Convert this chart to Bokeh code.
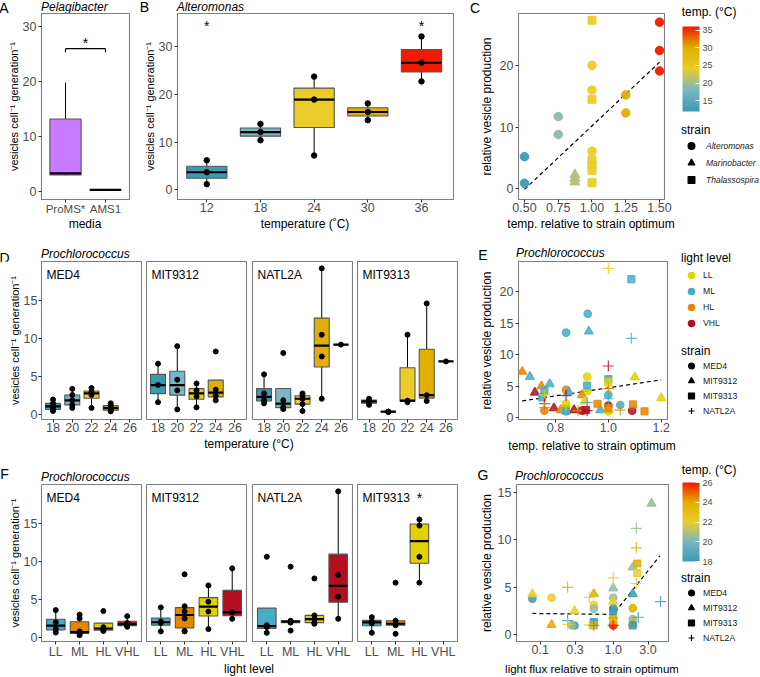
import numpy as np
from bokeh.plotting import figure
from bokeh.models import (ColumnDataSource, FixedTicker, Range1d, Label, Legend, LegendItem,
                          ColorBar, LinearColorMapper, NumeralTickFormatter,
                          CustomJSTickFormatter, Div)
from bokeh.layouts import row, column
from bokeh.core.properties import value
from bokeh.transform import factor_cmap, transform
from bokeh.embed import file_html
from bokeh.resources import INLINE

FONT = "Liberation Sans"

# ---------------------------------------------------------------- data
ZISSOU = ["#3B9AB2", "#78B7C5", "#EBCC2A", "#E1AF00", "#F21A00"]
LIGHT_COLORS_F = ["#46ACC8", "#E58601", "#E2D200", "#B40F20"]
LIGHT_COLORS_E = ["#E2D200", "#46ACC8", "#E58601", "#B40F20"]

# A  Pelagibacter
A_media = ["ProMS*", "AMS1"]
A_values = [[2.95, 3.0, 3.3, 13.2, 19.8], [0.2, 0.3, 0.35]]
A_fill = ["#C77CFF", "#7F7F7F"]
A_sig_pair = [1, 2]
A_sig_y = 26.0
A_star_y = 27.8

# B  Alteromonas
B_temps = [12, 18, 24, 30, 36]
B_values = [[1.2, 3.7, 6.2], [10.4, 12.1, 13.8], [7.2, 18.9, 23.7],
            [14.6, 16.3, 18.1], [22.7, 26.6, 32.1]]
B_star_x = [12, 36]
B_star_y = [35.1, 35.1]

# C  relative temperature vs vesicle production
C_alt_x = [0.5, 0.5, 0.75, 0.75, 1.0, 1.0, 1.0, 1.25, 1.25, 1.5, 1.5, 1.5]
C_alt_y = [5.2, 0.9, 11.7, 8.8, 20.0, 16.0, 6.1, 15.2, 12.3, 27.0, 22.4, 19.1]
C_alt_t = [12, 12, 19, 19, 24, 24, 24, 30, 30, 36, 36, 36]
C_mar_x = [0.873, 0.873, 0.873]
C_mar_y = [1.1, 1.7, 2.3]
C_mar_t = [21, 21, 21]
C_tha_x = [1.0, 1.0, 1.0, 1.0, 1.0, 1.0]
C_tha_y = [27.3, 14.5, 4.7, 3.9, 3.0, 1.0]
C_tha_t = [24, 24, 24, 24, 24, 24]
C_fit_x = [0.5, 1.5]
C_fit_y = [-0.1, 20.5]
C_strains = ["Alteromonas", "Marinobacter", "Thalassospira"]

# D  Prochlorococcus vs temperature
D_strains = ["MED4", "MIT9312", "NATL2A", "MIT9313"]
D_temps = ["18", "20", "22", "24", "26"]
D_MED4 = [[0.5, 0.7, 1.1, 1.5, 2.0], [0.9, 1.3, 1.9, 2.6, 3.4], [0.9, 2.6, 3.0, 3.5],
          [0.45, 0.6, 0.87, 1.2, 1.5], []]
D_MIT9312 = [[1.65, 3.9, 6.7], [0.7, 3.2, 4.6, 9.0], [0.97, 2.4, 3.2, 4.1],
             [1.9, 2.5, 3.3, 8.3], []]
D_NATL2A = [[1.5, 1.9, 2.8, 5.3], [0.75, 1.0, 1.9, 8.1], [0.5, 1.4, 2.1, 2.5, 2.8],
            [2.1, 7.65, 10.5, 19.2], [9.2]]
D_MIT9313 = [[1.3, 1.75, 2.1], [0.37, 0.4, 0.42], [1.65, 1.85, 10.5],
             [1.8, 2.57, 14.6], [7.0]]
D_values = [D_MED4, D_MIT9312, D_NATL2A, D_MIT9313]

# E  relative temperature, Prochlorococcus
E_levels = ["LL", "ML", "HL", "VHL"]
E_MED4_x = [0.840, 0.922, 0.92, 0.92, 0.84, 1.0, 1.045, 0.84, 0.758, 1.0, 1.09, 0.90, 0.84, 1.0]
E_MED4_y = [13.5, 16.5, 6.5, 4.2, 4.4, 3.6, 2.0, 2.2, 1.1, 1.9, 1.1, 1.1, 1.0, 1.0]
E_MED4_l = ["ML", "ML", "LL", "LL", "HL", "ML", "ML", "LL", "HL", "VHL", "VHL", "VHL", "ML", "LL"]
E_MIT9312_x = [0.926, 0.674, 0.703, 1.1, 0.778, 0.747, 0.722, 0.85, 0.9, 0.91, 0.794, 0.82,
               0.87, 0.97, 1.0, 1.2, 0.84]
E_MIT9312_y = [13.7, 7.3, 6.5, 6.4, 5.35, 5.0, 4.0, 4.1, 3.6, 2.6, 1.5, 1.2, 1.2, 1.2, 1.2, 3.1, 1.0]
E_MIT9312_l = ["ML", "HL", "ML", "LL", "ML", "HL", "VHL", "ML", "HL", "LL", "VHL", "HL",
               "VHL", "ML", "LL", "LL", "ML"]
E_MIT9313_x = [1.087, 0.92, 1.0, 0.758, 0.75, 0.959, 1.093, 1.0, 1.137, 0.915, 0.84, 1.0]
E_MIT9313_y = [22.0, 5.1, 6.1, 4.3, 3.2, 2.2, 2.1, 1.5, 1.0, 1.2, 1.3, 5.6]
E_MIT9313_l = ["ML", "ML", "ML", "ML", "ML", "HL", "HL", "HL", "HL", "VHL", "ML", "LL"]
E_NATL2A_x = [1.0, 1.087, 1.0, 0.758, 0.758, 0.758, 0.84, 0.92, 0.885, 0.92, 1.045, 1.0, 1.0, 0.84]
E_NATL2A_y = [23.7, 12.6, 8.2, 3.6, 2.2, 1.6, 3.5, 2.4, 1.1, 1.1, 1.2, 4.6, 3.0, 1.8]
E_NATL2A_l = ["LL", "ML", "VHL", "LL", "VHL", "HL", "VHL", "ML", "HL", "VHL", "HL", "HL", "ML", "LL"]
E_fit_x = [0.674, 1.2]
E_fit_y = [2.65, 6.0]

# F  Prochlorococcus vs light level
F_levels = ["LL", "ML", "HL", "VHL"]
F_MED4 = [[0.65, 1.1, 2.0, 3.6], [0.3, 0.5, 0.6, 0.8, 2.5, 3.0], [0.85, 1.0, 1.35, 3.47],
          [1.4, 1.6, 1.9, 2.8]]
F_MIT9312 = [[0.8, 1.9, 2.1, 3.95], [0.8, 0.85, 2.5, 3.4, 4.1, 8.3], [1.1, 3.4, 4.7, 6.84],
             [2.45, 3.29, 9.08]]
F_NATL2A = [[0.61, 1.36, 1.6, 10.6], [0.9, 1.95, 2.1, 2.2, 9.3], [1.8, 1.95, 2.4, 2.9, 7.76],
            [2.45, 5.35, 8.2, 19.2]]
F_MIT9313 = [[0.61, 1.85, 2.1, 2.67], [0.48, 1.6, 1.8, 2.2, 7.2], [7.2, 10.6, 14.7, 15.5], []]
F_values = [F_MED4, F_MIT9312, F_NATL2A, F_MIT9313]
F_star = {"MIT9313": (3, 18.9)}

# G  relative light flux, Prochlorococcus
G_MED4_x = [0.078, 0.143, 1.0, 0.542, 0.542, 1.85, 1.85, 0.295, 0.27, 1.0, 1.0]
G_MED4_y = [3.8, 3.9, 3.9, 3.15, 2.75, 2.8, 1.66, 0.98, 1.0, 1.0, 2.8]
G_MED4_t = [18, 22, 20.5, 22, 20.5, 24, 20.5, 18, 20.5, 26, 18]
G_MIT9312_x = [3.35, 1.85, 1.0, 0.078, 0.542, 1.85, 1.0, 0.295, 0.143, 1.85, 1.0]
G_MIT9312_y = [13.8, 7.1, 4.9, 4.3, 4.3, 4.3, 3.5, 2.5, 1.05, 1.2, 2.0]
G_MIT9312_t = [20.5, 20.5, 20.5, 22, 24, 18, 22, 22, 24, 24, 24]
G_MIT9313_x = [2.13, 2.13, 0.542, 0.542, 1.0, 1.85, 1.0]
G_MIT9313_y = [7.5, 6.5, 1.35, 1.0, 1.5, 1.0, 2.5]
G_MIT9313_t = [24, 22, 18, 24, 24, 18, 18]
G_NATL2A_x = [2.07, 2.07, 1.0, 2.07, 0.237, 0.469, 4.45, 2.2, 0.237, 0.237, 0.469, 0.542, 1.0]
G_NATL2A_y = [11.2, 9.15, 6.0, 5.4, 5.0, 3.95, 3.5, 1.85, 1.5, 1.1, 1.05, 1.0, 1.0]
G_NATL2A_t = [20.5, 24, 22, 22, 24, 22, 18, 18, 18, 22, 22, 18, 26]
G_fit_x = [0.078, 1.0, 4.35]
G_fit_y = [2.25, 2.15, 8.3]

STRAIN_MARKERS = ["circle", "triangle", "square", "cross"]
E_strains = ["MED4", "MIT9312", "MIT9313", "NATL2A"]


# ---------------------------------------------------------------- helpers
def ramp(anchors, n=256):
    rgb = np.array([[int(c[i:i + 2], 16) for i in (1, 3, 5)] for c in anchors], float)
    pos = np.linspace(0, 1, len(anchors))
    t = np.linspace(0, 1, n)
    ch = [np.interp(t, pos, rgb[:, k]) for k in range(3)]
    return ["#%02X%02X%02X" % (int(round(r)), int(round(g)), int(round(b))) for r, g, b in zip(*ch)]


PAL = ramp(ZISSOU)


def base_fig(w, h, xr, yr, left, right, top, bottom, y_axis=True, x_type="linear"):
    p = figure(width=w, height=h, x_range=Range1d(*xr), y_range=Range1d(*yr),
               x_axis_type=x_type, x_axis_location="below",
               y_axis_location="left" if y_axis else None,
               output_backend="svg", toolbar_location=None, title=None,
               min_border_left=left, min_border_right=right,
               min_border_top=top, min_border_bottom=bottom)
    p.grid.visible = False
    p.outline_line_color = "#7F7F7F"
    p.outline_line_width = 1.1
    p.background_fill_color = "white"
    p.border_fill_color = "white"
    for ax in p.axis:
        ax.axis_line_color = None
        ax.major_tick_line_color = "#333333"
        ax.major_tick_out = 3
        ax.major_tick_in = 0
        ax.minor_tick_line_color = None
        ax.major_label_text_font = FONT
        ax.major_label_text_font_size = "12.5px"
        ax.major_label_text_color = "#4D4D4D"
        ax.major_label_standoff = 2
        ax.axis_label_text_font = FONT
        ax.axis_label_text_font_style = "normal"
        ax.axis_label_text_font_size = "12px"
        ax.axis_label_text_color = "black"
    for ax in p.xaxis:
        ax.major_label_standoff = 0
    return p


def small_fig(w, h):
    p = figure(width=w, height=h, x_range=Range1d(0, 1), y_range=Range1d(0, 1),
               x_axis_location=None, y_axis_location=None, title=None,
               output_backend="svg", toolbar_location=None, min_border=0)
    p.grid.visible = False
    p.outline_line_color = None
    return p


def strip(width, height, items):
    spans = []
    for text, x, yc, size, style, align in items:
        tr = "transform:translateX(-50%);" if align == "center" else ""
        spans.append(
            f'<span style="position:absolute;left:{x}px;top:{yc - size / 2:.1f}px;'
            f'font-size:{size}px;line-height:{size}px;font-style:{style};white-space:nowrap;{tr}">'
            f'{text}</span>')
    html = (f'<div style="position:relative;width:{width}px;height:{height}px;'
            f'font-family:\'Liberation Sans\',Arial,sans-serif;color:#000">' + "".join(spans) + "</div>")
    return Div(text=html, width=width, height=height, margin=0, styles={"overflow": "visible"})


def note(p, text, dx, dy, size="12px", style="normal", align="left", color="black"):
    p.add_layout(Label(x=p.x_range.start, y=p.y_range.end, x_offset=dx, y_offset=dy, text=text,
                       text_font=FONT, text_font_size=size, text_font_style=style,
                       text_align=align, text_baseline="middle", text_color=color))


def draw_boxes(p, xs, groups, colors, width, points=True, pt_size=5):
    d = dict(x=[], xl=[], xr=[], q1=[], med=[], q3=[], lo=[], hi=[], color=[])
    px, py = [], []
    for x, vals, col in zip(xs, groups, colors):
        if not vals:
            continue
        v = np.asarray(vals, float)
        q1, med, q3 = np.percentile(v, [25, 50, 75])
        iqr = q3 - q1
        lo = v[v >= q1 - 1.5 * iqr].min()
        hi = v[v <= q3 + 1.5 * iqr].max()
        for k, val in zip(["x", "xl", "xr", "q1", "med", "q3", "lo", "hi", "color"],
                          [x, x - width / 2, x + width / 2, q1, med, q3, lo, hi, col]):
            d[k].append(val)
        px += [x] * len(v)
        py += list(v)
    src = ColumnDataSource(d)
    p.segment(x0="x", y0="lo", x1="x", y1="q1", source=src, line_color="black", line_width=1)
    p.segment(x0="x", y0="q3", x1="x", y1="hi", source=src, line_color="black", line_width=1)
    p.quad(left="xl", right="xr", bottom="q1", top="q3", source=src, fill_color="color",
           line_color="#555555", line_width=1.1)
    p.segment(x0="xl", y0="med", x1="xr", y1="med", source=src, line_color="black", line_width=2.2)
    if points:
        p.scatter(px, py, size=pt_size, color="black")


def ticks(ax, vals, labels=None):
    ax.ticker = FixedTicker(ticks=list(vals))
    if labels is not None:
        ax.major_label_overrides = {v: l for v, l in zip(vals, labels)}


def star(p, xs, ys):
    p.text(x=xs, y=ys, text=["*"] * len(xs), text_font=value(FONT), text_font_size=value("14px"),
           text_align="center", text_baseline="middle", y_offset=4, text_color="black")


def add_colorbar(p, mapper, tick_vals, bar_h):
    cb = ColorBar(color_mapper=mapper, ticker=FixedTicker(ticks=tick_vals), orientation="vertical",
                  width=17, height=int(bar_h),
                  major_label_text_font=FONT, major_label_text_font_size="9px",
                  major_label_text_color="#4D4D4D", label_standoff=3,
                  major_tick_line_color="white", major_tick_in=4, major_tick_out=0,
                  minor_tick_line_color=None, bar_line_color=None, padding=4, margin=0,
                  location="top_left", background_fill_alpha=0, border_line_color=None)
    p.add_layout(cb)


def add_legend(p, title, labels, markers, colors, item_h, standoff, lsize, lstyle, lstand):
    items = []
    for lab, mk, col in zip(labels, markers, colors):
        r = p.scatter(x=[np.nan], y=[np.nan], marker=mk, fill_color=col, line_color=col,
                      line_width=1.2, size=8)
        items.append(LegendItem(label=lab, renderers=[r]))
    lg = Legend(items=items, location="top_left", title=title, title_text_font=FONT,
                title_text_font_size="12px", title_text_font_style="normal",
                title_text_color="black", title_standoff=int(standoff),
                label_text_font=FONT, label_text_font_size=lsize, label_text_font_style=lstyle,
                label_text_color="#1A1A1A", label_standoff=int(lstand),
                glyph_width=20, glyph_height=int(item_h), label_height=int(item_h), spacing=0,
                padding=0, margin=3, background_fill_alpha=0, border_line_alpha=0)
    p.add_layout(lg)


VES = "vesicles cell\u207B\u00B9 generation\u207B\u00B9"
TEMP_T = "temp. (\u00B0C)"

# ---------------------------------------------------------------- row 1  (y 0..232)
fA = base_fig(140, 206, (0.4, 2.6), (-1.45, 32.4), 41, 11, 0, 20)
xsA = list(range(1, len(A_media) + 1))
draw_boxes(fA, xsA, A_values, A_fill, 0.78, points=False)
sy = A_sig_y
fA.segment(x0=[A_sig_pair[0], A_sig_pair[0], A_sig_pair[1]], y0=[sy, sy, sy],
           x1=[A_sig_pair[1], A_sig_pair[0], A_sig_pair[1]], y1=[sy, sy - 0.65, sy - 0.65],
           line_color="black", line_width=1.2)
star(fA, [sum(A_sig_pair) / 2], [A_star_y])
ticks(fA.xaxis[0], xsA, A_media)
fA.xaxis.major_label_text_font_size = "11.5px"
ticks(fA.yaxis[0], [0, 10, 20, 30])
fA.yaxis.axis_label = VES
fA.yaxis.axis_label_text_font_size = "11px"
fA.yaxis.axis_label_standoff = 0

fB = base_fig(330, 206, (8.725, 39.58), (-2.0, 36.9), 37, 17, 0, 20)
draw_boxes(fB, B_temps, B_values, ZISSOU, 4.5, points=True, pt_size=5.5)
star(fB, B_star_x, B_star_y)
ticks(fB.xaxis[0], B_temps)
ticks(fB.yaxis[0], [0, 10, 20, 30])
fB.yaxis.axis_label = VES
fB.yaxis.axis_label_text_font_size = "11px"
fB.yaxis.axis_label_standoff = 0

mapC = LinearColorMapper(palette=PAL, low=12, high=36)
fC = base_fig(208, 206, (0.4556, 1.537), (-1.73, 28.4), 48, 14, 0, 20)
fC.line(C_fit_x, C_fit_y, line_color="black", line_dash="4 3", line_width=1.2)
for xs_, ys_, ts_, mk, sz in [(C_mar_x, C_mar_y, C_mar_t, "triangle", 10),
                              (C_alt_x, C_alt_y, C_alt_t, "circle", 8.5),
                              (C_tha_x, C_tha_y, C_tha_t, "square", 8)]:
    src = ColumnDataSource(dict(x=xs_, y=ys_, t=ts_))
    fC.scatter("x", "y", source=src, marker=mk, size=sz,
               fill_color=transform("t", mapC), line_color=transform("t", mapC), alpha=0.95)
ticks(fC.xaxis[0], [0.5, 0.75, 1.0, 1.25, 1.5])
fC.xaxis.formatter = NumeralTickFormatter(format="0.00")
ticks(fC.yaxis[0], [0, 10, 20])
fC.yaxis.axis_label = "relative vesicle production"
fC.yaxis.axis_label_standoff = 3

top1 = strip(678, 13, [("A", 4, 8, 14, "normal", "center"),
                       ("Pelagibacter", 41, 6.5, 12, "italic", "left"),
                       ("B", 144.5, 7, 14, "normal", "center"),
                       ("Alteromonas", 176.7, 6.5, 12, "italic", "left"),
                       ("C", 475, 7.5, 14, "normal", "center")])
bot1 = strip(678, 13, [("media", 85, 5, 12, "normal", "center"),
                       ("temperature (\u02DAC)", 305, 5, 12, "normal", "center"),
                       ("temp. relative to strain optimum", 591, 5, 12, "normal", "center")])

cT = strip(82, 22, [(TEMP_T, 3.7, 11.7, 12, "normal", "left")])
cB = small_fig(82, 98)
add_colorbar(cB, mapC, [15, 20, 25, 30, 35], 85)
cL = small_fig(82, 112)
add_legend(cL, "strain", C_strains, ["circle", "triangle", "square"], ["black"] * 3,
           17, 0, "8.5px", "italic", 5)

row1 = row(column(top1, row(fA, fB, fC), bot1), column(cT, cB, cL))

# ---------------------------------------------------------------- row 2  (y 232..454)
widths = [143, 106, 105, 118]
lefts = [41, 3, 3, 3]
rights = [2, 3, 2, 15]

fD = []
for i, strain in enumerate(D_strains):
    p = base_fig(widths[i], 178, (0.4, 5.6), (-0.62, 20.1), lefts[i], rights[i], 0, 20,
                 y_axis=(i == 0))
    xs = list(range(1, len(D_temps) + 1))
    draw_boxes(p, xs, D_values[i], ZISSOU, 0.78, points=True, pt_size=5)
    ticks(p.xaxis[0], xs, D_temps)
    note(p, strain, 5, -13)
    fD.append(p)
ticks(fD[0].yaxis[0], [0, 5, 10, 15])
fD[0].yaxis.axis_label = VES
fD[0].yaxis.axis_label_text_font_size = "11px"
fD[0].yaxis.axis_label_standoff = 0
fD[0].yaxis.major_label_standoff = 1

fE = base_fig(206, 178, (0.66, 1.224), (-0.3, 24.8), 46, 11, 0, 20)
fE.line(E_fit_x, E_fit_y, line_color="black", line_dash="4 3", line_width=1.2)
E_sets = [(E_MED4_x, E_MED4_y, E_MED4_l), (E_MIT9312_x, E_MIT9312_y, E_MIT9312_l),
          (E_MIT9313_x, E_MIT9313_y, E_MIT9313_l), (E_NATL2A_x, E_NATL2A_y, E_NATL2A_l)]
E_sizes = [7.5, 9, 7, 11]
for (xs_, ys_, ls_), mk, sz in zip(E_sets, STRAIN_MARKERS, E_sizes):
    src = ColumnDataSource(dict(x=xs_, y=ys_, l=ls_))
    cm = factor_cmap("l", LIGHT_COLORS_E, E_levels)
    fE.scatter("x", "y", source=src, marker=mk, size=sz, fill_color=cm, line_color=cm,
               line_width=1.2, alpha=0.85)
ticks(fE.xaxis[0], [0.8, 1.0, 1.2])
fE.xaxis.formatter = NumeralTickFormatter(format="0.0")
ticks(fE.yaxis[0], [0, 5, 10, 15, 20])
fE.yaxis.axis_label = "relative vesicle production"
fE.yaxis.axis_label_standoff = 3

top2 = strip(678, 29, [("D", 4.5, 25.5, 14, "normal", "center"),
                       ("Prochlorococcus", 41, 22, 12, "italic", "left"),
                       ("E", 483, 23, 14, "normal", "center"),
                       ("Prochlorococcus", 516, 21, 12, "italic", "left")])
bot2 = strip(678, 15, [("temperature (\u00B0C)", 249, 5, 12, "normal", "center"),
                       ("temp. relative to strain optimum", 592, 7, 12, "normal", "center")])

eS = Div(text="", width=82, height=16, margin=0)
eL1 = small_fig(82, 93)
add_legend(eL1, "light level", E_levels, ["circle"] * 4, LIGHT_COLORS_E, 16, 2,
           "8.7px", "normal", 2)
eL2 = small_fig(82, 113)
add_legend(eL2, "strain", E_strains, STRAIN_MARKERS, ["black"] * 4, 15, 0,
           "8.7px", "normal", 2)

row2 = row(column(top2, row(*fD, fE), bot2), column(eS, eL1, eL2))

# ---------------------------------------------------------------- row 3  (y 454..677)
fF = []
for i, strain in enumerate(D_strains):
    p = base_fig(widths[i], 178, (0.4, 4.6), (-0.53, 20.1), lefts[i], rights[i], 0, 21,
                 y_axis=(i == 0))
    xs = list(range(1, len(F_levels) + 1))
    draw_boxes(p, xs, F_values[i], LIGHT_COLORS_F, 0.78, points=True, pt_size=5)
    ticks(p.xaxis[0], xs, F_levels)
    note(p, strain, 5, -13)
    if strain in F_star:
        star(p, [F_star[strain][0]], [F_star[strain][1]])
    fF.append(p)
ticks(fF[0].yaxis[0], [0, 5, 10, 15])
fF[0].yaxis.axis_label = VES
fF[0].yaxis.axis_label_text_font_size = "11px"
fF[0].yaxis.axis_label_standoff = 0
fF[0].yaxis.major_label_standoff = 1

mapG = LinearColorMapper(palette=PAL, low=18, high=26)
fG = base_fig(206, 178, (0.0473, 5.72), (-0.70, 15.81), 44, 10, 0, 21, x_type="log")
fG.line(G_fit_x, G_fit_y, line_color="black", line_dash="4 3", line_width=1.2)
G_sets = [(G_MED4_x, G_MED4_y, G_MED4_t), (G_MIT9312_x, G_MIT9312_y, G_MIT9312_t),
          (G_MIT9313_x, G_MIT9313_y, G_MIT9313_t), (G_NATL2A_x, G_NATL2A_y, G_NATL2A_t)]
for (xs_, ys_, ts_), mk, sz in zip(G_sets, STRAIN_MARKERS, E_sizes):
    src = ColumnDataSource(dict(x=xs_, y=ys_, t=ts_))
    fG.scatter("x", "y", source=src, marker=mk, size=sz, fill_color=transform("t", mapG),
               line_color=transform("t", mapG), line_width=1.2, alpha=0.85)
ticks(fG.xaxis[0], [0.1, 0.3, 1.0, 3.0])
fG.xaxis.formatter = CustomJSTickFormatter(code="return tick.toFixed(1);")
ticks(fG.yaxis[0], [0, 5, 10, 15])
fG.yaxis.axis_label = "relative vesicle production"
fG.yaxis.axis_label_standoff = 1

top3 = strip(678, 30, [("F", 4.5, 20, 14, "normal", "center"),
                       ("Prochlorococcus", 41, 22.7, 12, "italic", "left"),
                       ("G", 483, 21, 14, "normal", "center"),
                       ("Prochlorococcus", 515, 22, 12, "italic", "left")])
bot3 = strip(678, 15, [("light level", 249, 7, 12, "normal", "center"),
                       ("light flux relative to strain optimum", 592, 8, 11.5, "normal", "center")])

gT = strip(82, 24, [(TEMP_T, 3.7, 16, 12, "normal", "left")])
gB = small_fig(82, 90)
add_colorbar(gB, mapG, [18, 20, 22, 24, 26], 79)
gL = small_fig(82, 109)
add_legend(gL, "strain", E_strains, STRAIN_MARKERS, ["black"] * 4, 15, 0,
           "8.7px", "normal", 2)

row3 = row(column(top3, row(*fF, fG), bot3), column(gT, gB, gL))

layout = column(row1, row2, row3)
open("out.html", "w").write(file_html(layout, INLINE))
